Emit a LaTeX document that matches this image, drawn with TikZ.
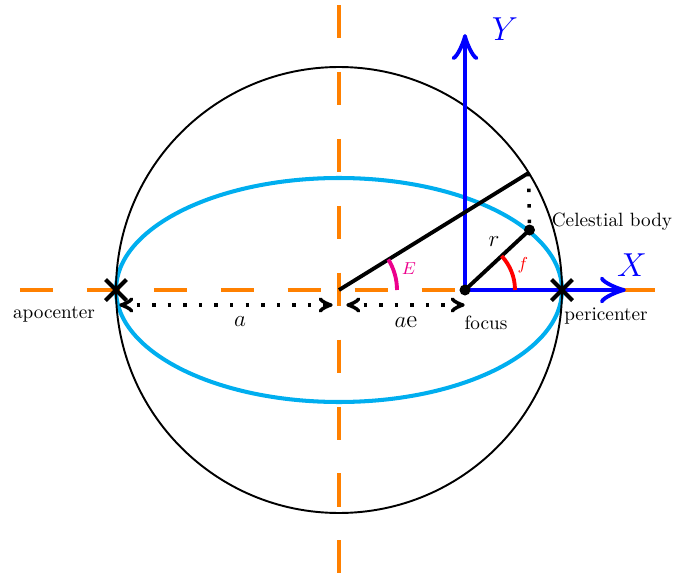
\documentclass[tikz,border=0pt]{standalone}
\usepackage{tikz}
\usetikzlibrary{arrows.meta}
\definecolor{ecyan}{RGB}{0,174,239}
\definecolor{eorange}{RGB}{255,128,0}
\definecolor{emag}{RGB}{236,0,140}
\pgfdeclarearrow{
  name = BigTo,
  parameters = {\the\pgfarrowlength,\the\pgfarrowwidth},
  setup code = {
    \pgfarrowssettipend{\pgfarrowlength}
    \pgfarrowssetlineend{\pgfarrowlength}
    \pgfarrowssetbackend{0pt}
    \pgfarrowssavethe\pgfarrowlength
    \pgfarrowssavethe\pgfarrowwidth
  },
  drawing code = {
    \pgfsetdash{}{0pt}
    \pgfsetroundcap
    \pgfsetroundjoin
    \pgfpathmoveto{\pgfqpoint{0pt}{0.5\pgfarrowwidth}}
    \pgfpathcurveto{\pgfqpoint{0.067\pgfarrowlength}{0.3125\pgfarrowwidth}}{\pgfqpoint{0.8\pgfarrowlength}{0.031\pgfarrowwidth}}{\pgfqpoint{\pgfarrowlength}{0pt}}
    \pgfpathcurveto{\pgfqpoint{0.8\pgfarrowlength}{-0.031\pgfarrowwidth}}{\pgfqpoint{0.067\pgfarrowlength}{-0.3125\pgfarrowwidth}}{\pgfqpoint{0pt}{-0.5\pgfarrowwidth}}
    \pgfusepathqstroke
  },
  defaults = {length=10pt, width=11pt}
}
\begin{document}
\begin{tikzpicture}[x=0.52pt,y=0.52pt,
  guide/.style={eorange, line width=1.6pt, dash pattern=on 17.2pt off 17.6pt},
  axisline/.style={blue, line width=2pt, -{BigTo[length=11.5pt, width=12pt]}},
  thickline/.style={black, line width=2pt},
  dotline/.style={black, line width=1.8pt, dash pattern=on 1.8pt off 6.3pt},
  dotarrow/.style={dotline, {BigTo[length=5.5pt, width=6.2pt]}-{BigTo[length=5.5pt, width=6.2pt]}},
  xmark/.style={black, line width=2.1pt},
  lbl/.style={inner sep=1pt},
  biglbl/.style={inner sep=1pt, font=\fontsize{13}{15}\selectfont}
]
\useasboundingbox (0,0) rectangle (673,580);
% key points
\coordinate (C) at (339,290);
\coordinate (F) at (465,290);
\coordinate (Apo) at (116,290);
\coordinate (Peri) at (562,290);
\coordinate (Q) at (528.5,407);
\coordinate (B) at (529.5,350);
\coordinate (Ytip) at (465,544);
\coordinate (Xtip) at (624,290);
\coordinate (HL) at (20,290);
\coordinate (HR) at (657,290);
\coordinate (VT) at (339,575);
\coordinate (VB) at (339,3);
\coordinate (a1) at (121,275);
\coordinate (a2) at (331,275);
\coordinate (e1) at (348,275);
\coordinate (e2) at (463,275);
% guides
\draw[guide] (HL) -- (HR);
\draw[guide] (VT) -- (VB);
% ellipse and circle
\draw[ecyan, line width=2.1pt] (C) ellipse [x radius=223, y radius=112];
\draw[black, line width=1pt] (C) circle [radius=223];
% axes
\draw[axisline] (F) -- (Ytip);
\draw[axisline] (F) -- (Xtip);
% lines
\draw[thickline] (C) -- (Q);
\draw[dotline] (Q) -- (B);
\draw[thickline] (F) -- (B);
% angle arcs
\draw[red, line width=2pt] (F) ++(50,0) arc[start angle=0, end angle=43, radius=50];
\draw[emag, line width=2pt] (C) ++(58,0) arc[start angle=0, end angle=31.8, radius=58];
% dots
\fill (F) circle[radius=5.5];
\fill (B) circle[radius=5.5];
% crosses
\draw[xmark] (Apo) ++(-10.5,-10.5) -- ++(21,21) (Apo) ++(-10.5,10.5) -- ++(21,-21);
\draw[xmark] (Peri) ++(-10.5,-10.5) -- ++(21,21) (Peri) ++(-10.5,10.5) -- ++(21,-21);
% distance arrows
\draw[dotarrow] (a1) -- (a2);
\draw[dotarrow] (e1) -- (e2);
% labels
\node[lbl] (apoL) at (54,266) {apocenter};
\node[biglbl] (aL) at (240,258) {$a$};
\node[biglbl] (aeL) at (406,258) {$a$e};
\node[lbl] (focL) at (486,257) {focus};
\node[lbl] (periL) at (606,264) {pericenter};
\node[lbl] (celL) at (612,358) {Celestial body};
\node[biglbl] (rL) at (494,338) {$r$};
\node[lbl, red] (fL) at (523,315) {\small$f$};
\node[lbl, emag] (EL) at (409,311) {\small$E$};
\node[lbl, blue] (XL) at (632,315) {\LARGE$X$};
\node[lbl, blue] (YL) at (505,551) {\LARGE$Y$};
\end{tikzpicture}
\end{document}
